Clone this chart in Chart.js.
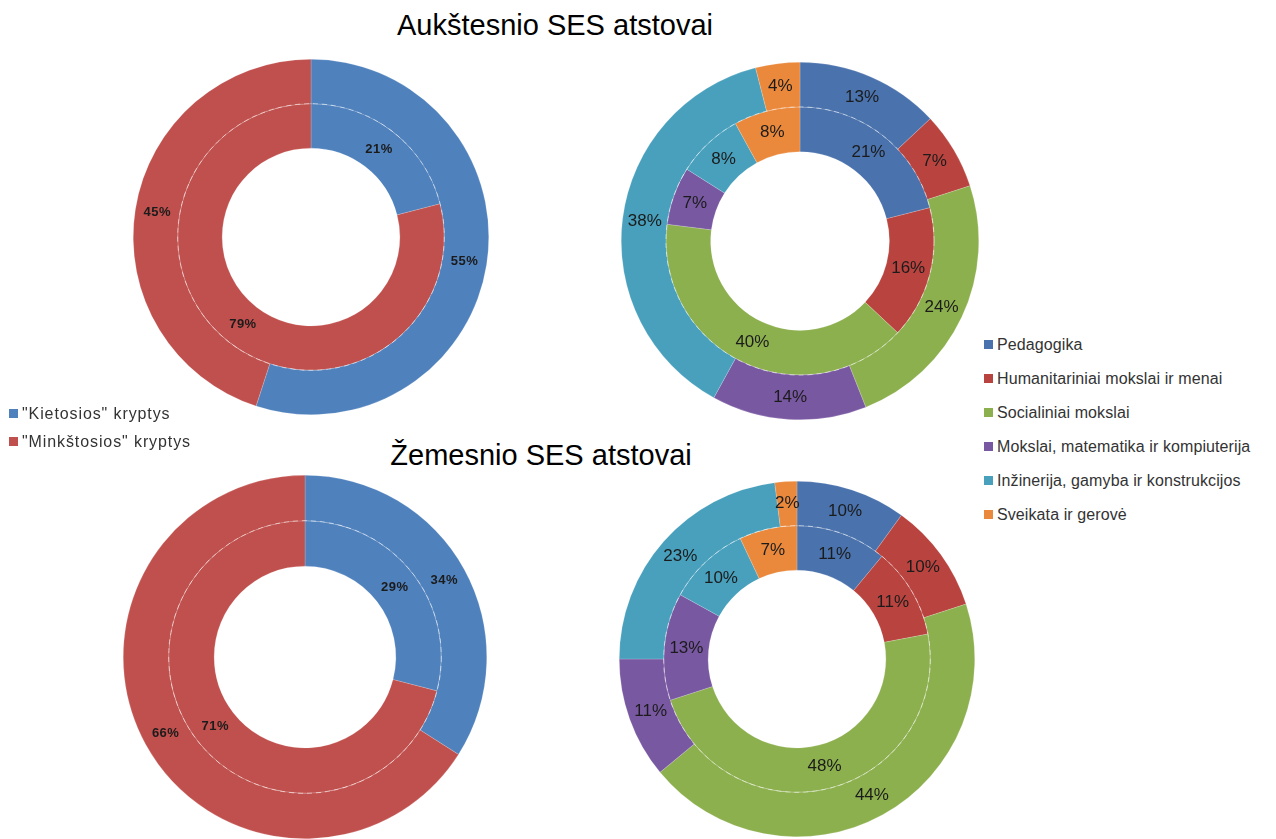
<!DOCTYPE html>
<html>
<head>
<meta charset="utf-8">
<script src="https://cdn.jsdelivr.net/npm/chart.js@4.4.0/dist/chart.umd.min.js"></script>
<style>
  body { margin: 0; width: 1276px; height: 839px; overflow: hidden; background: #fff; position: relative;
         font-family: 'Liberation Sans', Arial, sans-serif; }
  canvas { position: absolute; }
  .title { position: absolute; font-size: 29px; color: #000; white-space: nowrap; transform: translateX(-50%); }
  .leg { position: absolute; white-space: nowrap; font-size: 16px; color: #333; line-height: 18px; }
  .leg span { display: inline-block; width: 9px; height: 9px; margin-right: 4px; vertical-align: 1px; }
</style>
</head>
<body>
<div class="title" style="left:555px; top:9px;">Aukštesnio SES atstovai</div>
<div class="title" style="left:541px; top:439px;">Žemesnio SES atstovai</div>

<canvas id="hiDir" width="356" height="356" style="left:133px; top:59px;"></canvas>
<canvas id="hiField" width="358" height="358" style="left:621px; top:62px;"></canvas>
<canvas id="loDir" width="364" height="364" style="left:123px; top:475px;"></canvas>
<canvas id="loField" width="356" height="356" style="left:619px; top:481px;"></canvas>

<div id="legDir"></div>
<div id="legField"></div>

<script>
// kryptys
const dirLabels = ['"Kietosios" kryptys', '"Minkštosios" kryptys'];
const dirColors = ['#4f81bd', '#c0504d'];
const hiDirOuter = [55, 45];
const hiDirInner = [21, 79];
const loDirOuter = [34, 66];
const loDirInner = [29, 71];

// studiju sritys
const fieldLabels = ['Pedagogika', 'Humanitariniai mokslai ir menai', 'Socialiniai mokslai',
  'Mokslai, matematika ir kompiuterija', 'Inžinerija, gamyba ir konstrukcijos', 'Sveikata ir gerovė'];
const fieldColors = ['#4a72ad', '#b9443f', '#8db04f', '#7958a2', '#48a0bd', '#ea893c'];
const hiFieldOuter = [13, 7, 24, 14, 38, 4];
const hiFieldInner = [21, 16, 40, 7, 8, 8];
const loFieldOuter = [10, 10, 44, 11, 23, 2];
const loFieldInner = [11, 11, 48, 13, 10, 7];

// procentai ant segmentu + punktyrinis apskritimas tarp ziedu
const pctLabels = {
  id: 'pctLabels',
  afterDatasetsDraw(chart, args, opts) {
    const ctx = chart.ctx;
    ctx.save();
    const outer = chart.getDatasetMeta(0).data[0];
    if (outer) {
      ctx.beginPath();
      ctx.setLineDash([5, 4]);
      ctx.strokeStyle = 'rgba(255,255,255,0.5)';
      ctx.lineWidth = 1;
      ctx.arc(outer.x, outer.y, outer.innerRadius, 0, Math.PI * 2);
      ctx.stroke();
      ctx.setLineDash([]);
    }
    ctx.font = opts.font;
    ctx.fillStyle = '#1b1b1b';
    ctx.textAlign = 'center';
    ctx.textBaseline = 'middle';
    if (opts.spacing) ctx.letterSpacing = opts.spacing;
    chart.data.datasets.forEach((ds, i) => {
      chart.getDatasetMeta(i).data.forEach((arc, j) => {
        const p = arc.tooltipPosition();
        ctx.fillText(ds.data[j] + '%', p.x, p.y);
      });
    });
    ctx.restore();
  }
};

function ring(id, labels, colors, outer, inner, font, spacing) {
  new Chart(document.getElementById(id), {
    type: 'doughnut',
    data: {
      labels: labels,
      datasets: [
        { data: outer, backgroundColor: colors, borderColor: 'rgba(255,255,255,0.35)', borderWidth: 0.5 },
        { data: inner, backgroundColor: colors, borderColor: 'rgba(255,255,255,0.35)', borderWidth: 0.5 }
      ]
    },
    options: {
      responsive: false,
      animation: false,
      cutout: '50%',
      layout: { padding: 0 },
      plugins: {
        legend: { display: false },
        tooltip: { enabled: false },
        pctLabels: { font: font, spacing: spacing }
      }
    },
    plugins: [pctLabels]
  });
}

ring('hiDir', dirLabels, dirColors, hiDirOuter, hiDirInner, 'bold 13px "Liberation Sans", Arial', '0.5px');
ring('loDir', dirLabels, dirColors, loDirOuter, loDirInner, 'bold 13px "Liberation Sans", Arial', '0.5px');
ring('hiField', fieldLabels, fieldColors, hiFieldOuter, hiFieldInner, '17px "Liberation Sans", Arial');
ring('loField', fieldLabels, fieldColors, loFieldOuter, loFieldInner, '17px "Liberation Sans", Arial');

// legendos
function legend(boxId, labels, colors, left, top, step, spacing) {
  const box = document.getElementById(boxId);
  labels.forEach((l, i) => {
    const d = document.createElement('div');
    d.className = 'leg';
    d.style.left = left + 'px';
    d.style.top = (top + i * step) + 'px';
    d.style.letterSpacing = spacing;
    d.innerHTML = '<span style="background:' + colors[i] + '"></span>';
    d.appendChild(document.createTextNode(l));
    box.appendChild(d);
  });
}
legend('legDir', dirLabels, dirColors, 9, 405, 28, '0.9px');
legend('legField', fieldLabels, fieldColors, 984, 336, 34, '0.1px');
</script>
</body>
</html>
